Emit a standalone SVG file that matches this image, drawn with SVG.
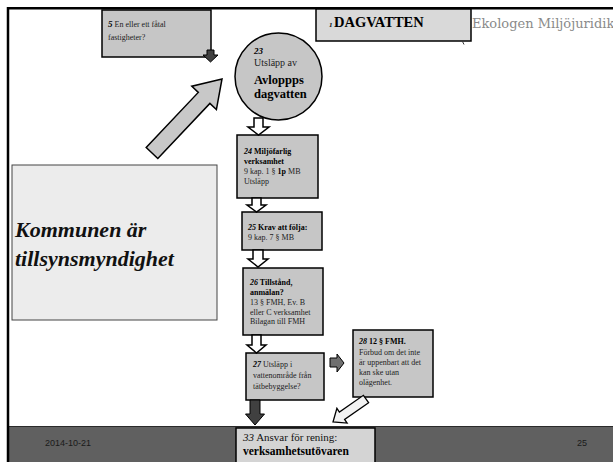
<svg xmlns="http://www.w3.org/2000/svg" width="613" height="462" viewBox="0 0 613 462">
<style>
.box{fill:#c6c6c6;stroke:#000;stroke-width:1.5}
.t{font-family:"Liberation Serif","Times New Roman",serif;font-size:8px;fill:#222}
.b{font-weight:bold;fill:#000}
.i{font-style:italic;font-weight:bold;fill:#000}
.hollow{fill:#fff;stroke:#000;stroke-width:1.5;stroke-linejoin:miter}
.sans{font-family:"Liberation Sans",Arial,sans-serif;font-size:9px;fill:#1a1a1a}
</style>
<rect x="0" y="0" width="613" height="462" fill="#fff"/>
<!-- footer band -->
<rect x="9" y="426" width="604" height="36" fill="#606060"/>
<line x1="9" y1="426.5" x2="613" y2="426.5" stroke="#2a2a2a" stroke-width="1.2"/>
<text class="sans" x="45" y="446">2014-10-21</text>
<text class="sans" x="577" y="446">25</text>
<!-- frame -->
<path d="M8 462 V8.3 H613" fill="none" stroke="#000" stroke-width="2.5"/>

<g id="kommunen">
<rect x="12" y="165" width="205" height="155" fill="#ececec" stroke="#444" stroke-width="1"/>
<text x="15" y="237" font-family="Liberation Serif,serif" font-size="22" font-style="italic" font-weight="bold" fill="#111">Kommunen är</text>
<text x="15" y="266" font-family="Liberation Serif,serif" font-size="22" font-style="italic" font-weight="bold" fill="#111">tillsynsmyndighet</text>
</g>

<g id="title">
<rect x="316" y="9" width="155" height="32" fill="#d9d9d9" stroke="#000" stroke-width="1.5"/>
<text x="329" y="27" font-family="Liberation Serif,serif" font-size="7" font-style="italic" font-weight="bold">1</text>
<text x="334" y="27" font-family="Liberation Serif,serif" font-size="14.5" font-weight="bold">DAGVATTEN</text>
<path d="M462.5 41.5 l1.5 3" stroke="#333" stroke-width="1" fill="none"/>
</g>
<text x="472" y="28" font-family="DejaVu Serif,serif" font-size="13" fill="#8a8a8a">Ekologen Miljöjuridik</text>

<g id="n5">
<rect class="box" x="102" y="10" width="109" height="47"/>
<text class="t" x="108" y="27"><tspan class="i" style="font-size:9px">5</tspan> En eller ett fåtal</text>
<text class="t" x="108" y="40">fastigheter?</text>
</g>

<g id="n23">
<circle cx="278.5" cy="76.5" r="43.5" fill="#c6c6c6" stroke="#000" stroke-width="1.5"/>
<text class="t i" x="254" y="54" style="font-size:9px">23</text>
<text class="t" x="254" y="66" style="font-size:10px">Utsläpp av</text>
<text class="t b" x="254" y="84" style="font-size:12.5px">Avloppps</text>
<text class="t b" x="254" y="98" style="font-size:12.5px">dagvatten</text>
</g>

<g id="n24">
<rect class="box" x="237" y="135" width="81" height="63"/>
<text class="t" x="244" y="154"><tspan class="i">24</tspan><tspan class="b"> Miljöfarlig</tspan></text>
<text class="t b" x="244" y="164">verksamhet</text>
<text class="t" x="244" y="174">9 kap. 1 § <tspan class="b">1p</tspan> MB</text>
<text class="t" x="244" y="184">Utsläpp</text>
</g>

<g id="n25">
<rect class="box" x="242" y="212" width="80" height="38"/>
<text class="t b" x="248" y="230"><tspan class="i">25</tspan> Krav att följa:</text>
<text class="t" x="248" y="240">9 kap. 7 § MB</text>
</g>

<g id="n26">
<rect class="box" x="243" y="268" width="80" height="67"/>
<text class="t b" x="250" y="285"><tspan class="i">26</tspan> Tillstånd,</text>
<text class="t b" x="250" y="295">anmälan?</text>
<text class="t" x="250" y="305">13 § FMH, Ev. B</text>
<text class="t" x="250" y="315">eller C verksamhet</text>
<text class="t" x="250" y="324">Bilagan till FMH</text>
</g>

<g id="n27">
<rect class="box" x="246" y="353" width="78" height="47"/>
<text class="t" x="253" y="367"><tspan class="i">27</tspan> Utsläpp i</text>
<text class="t" x="253" y="378">vattenområde från</text>
<text class="t" x="253" y="389">tätbebyggelse?</text>
</g>

<g id="n28">
<rect class="box" x="353" y="330" width="80" height="67"/>
<text class="t b" x="359" y="344"><tspan class="i">28</tspan>   12 § FMH.</text>
<text class="t" x="359" y="355">Förbud om det inte</text>
<text class="t" x="359" y="365">är uppenbart att det</text>
<text class="t" x="359" y="375">kan ske utan</text>
<text class="t" x="359" y="385">olägenhet.</text>
</g>

<g id="n33">
<rect x="236" y="428" width="139" height="40" fill="#d4d4d4" stroke="#000" stroke-width="1.5"/>
<text x="243" y="441" font-family="Liberation Serif,serif" font-size="11" fill="#111"><tspan font-style="italic">33</tspan> Ansvar för rening:</text>
<text x="243" y="455" font-family="Liberation Serif,serif" font-size="11.5" font-weight="bold" fill="#000">verksamhetsutövaren</text>
</g>

<g id="connectors">
<path d="M207 50 H214 V55 H218 L210.5 62 L203 55 H207 Z" fill="#404040" stroke="#000" stroke-width="1"/>
<path d="M157.8 158.5 L209.9 103.4 L216.4 109.6 L222 79 L191.8 86.2 L198.3 92.4 L146.2 147.5 Z" fill="#c8c8c8" stroke="#000" stroke-width="1.5" stroke-linejoin="miter"/>
<path class="hollow" d="M254 118 H263 V127 H269 L258.5 135 L248 127 H254 Z"/>
<path class="hollow" d="M252 198 H261 V205 H266 L256.5 212 L247 205 H252 Z"/>
<path class="hollow" d="M253 250 H263 V259 H268 L258 267 L248 259 H253 Z"/>
<path class="hollow" d="M252 335 H261 V345 H266 L256.5 353 L247 345 H252 Z"/>
<path d="M250 400 H260 V414 H264.5 L255 425 L245.5 414 H250 Z" fill="#404040" stroke="#000" stroke-width="1"/>
<path d="M330 358 H337 V354 L344 363 L337 372 V367 H330 Z" fill="#707070" stroke="#000" stroke-width="1"/>
<path d="M368.6 402.7 L344.6 419.4 L347.1 423.1 L333 422 L336.9 408.3 L339.4 412 L363.4 395.3 Z" fill="#f2f2f2" stroke="#000" stroke-width="1.3"/>
</g>
</svg>
